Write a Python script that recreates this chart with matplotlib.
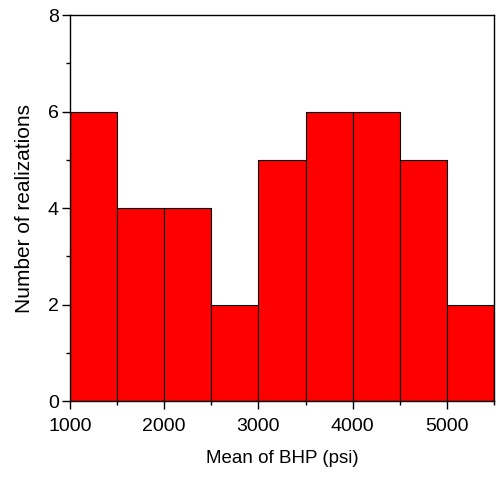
import numpy as np
import matplotlib
matplotlib.use("Agg")
import matplotlib.pyplot as plt
from matplotlib.ticker import MultipleLocator

plt.rcParams['font.family'] = ['Liberation Sans', 'DejaVu Sans']

# histogram bins (psi) and counts
bin_edges = [1000, 1500, 2000, 2500, 3000, 3500, 4000, 4500, 5000, 5500]
counts = [6, 4, 4, 2, 5, 6, 6, 5, 2]

fig = plt.figure(figsize=(5.01, 4.78), dpi=100)
ax = fig.add_axes([0.1397, 0.161, 0.8463, 0.8076])

left = np.array(bin_edges[:-1])
widths = np.diff(bin_edges)
ax.bar(left, counts, width=widths, align='edge', color='#ff0000',
       edgecolor='black', linewidth=0.8)

ax.set_xlim(1000, 5500)
ax.set_ylim(0, 8)
ax.xaxis.set_major_locator(MultipleLocator(1000))
ax.xaxis.set_minor_locator(MultipleLocator(500))
ax.yaxis.set_major_locator(MultipleLocator(2))
ax.yaxis.set_minor_locator(MultipleLocator(1))
ax.tick_params(which='major', direction='out', length=6, width=1, labelsize=14)
ax.tick_params(axis='x', which='major', pad=6)
ax.tick_params(axis='y', which='major', pad=2)
ax.tick_params(which='minor', direction='out', length=3, width=1)
for s in ax.spines.values():
    s.set_linewidth(1)

ax.set_xlabel('Mean of BHP (psi)', fontsize=13.5, labelpad=11)
ax.set_ylabel('Number of realizations', fontsize=15, labelpad=10)

plt.savefig('out.png', dpi=100)
